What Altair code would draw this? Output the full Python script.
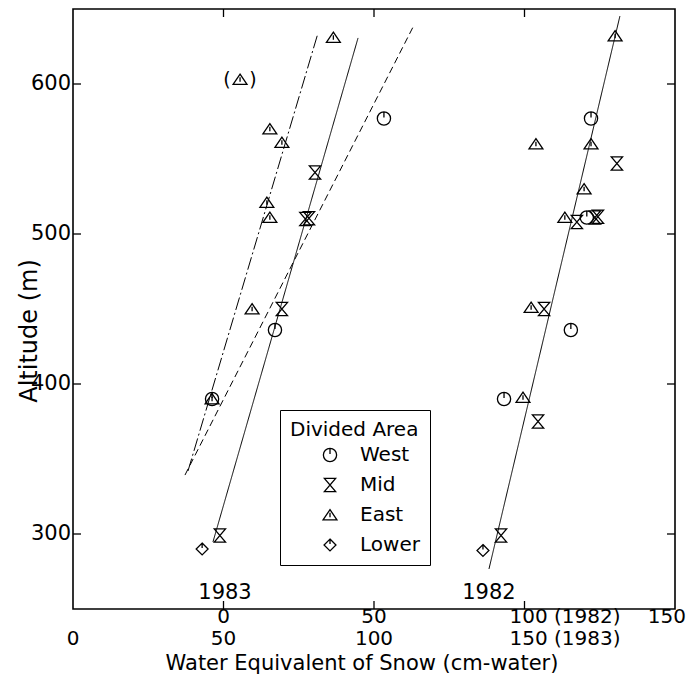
import altair as alt
import pandas as pd

FONT = "DejaVu Sans"

# ---- categories & marker shapes ----
areas = ["West", "Mid", "East", "Lower"]
shape_paths = [
    "M0,-1 A1,1,0,1,1,0,1 A1,1,0,1,1,0,-1 Z M0,-1 L0,-0.15",          # West
    "M-0.85,-1 L0.85,-1 L-0.85,1 L0.85,1 Z",                            # Mid
    "M0,-0.8 L1.05,0.75 L-1.05,0.75 Z M0,-0.35 L0,0.35",                # East
    "M0,-0.9 L0.9,0 L0,0.9 L-0.9,0 Z M0,-0.9 L0,-0.15",                 # Lower
]

# ---- 1983 observations (water in 1983 scale) ----
w83_area = ["East", "West", "East", "East", "Mid", "East", "East", "Mid", "Mid",
            "East", "Mid", "West", "West", "East", "Mid", "Lower"]
w83_water = [86.5, 103.3, 65.4, 69.4, 80.4, 64.4, 65.4, 77.2, 78.4,
             59.5, 69.4, 67.1, 46.2, 46.2, 48.8, 42.9]
w83_alt = [631, 577, 570, 561, 541, 521, 511, 510, 510.5,
           450, 450, 436, 390, 390, 299, 290]

# parenthesised (excluded) 1983 point
out83_area = ["East"]
out83_water = [55.5]
out83_alt = [603]

# ---- 1982 observations (water in 1982 scale) ----
w82_area = ["East", "West", "East", "East", "Mid", "East", "East", "Mid", "West", "Mid", "Mid",
            "East", "Mid", "West", "West", "East", "Mid", "Mid", "Lower"]
w82_water = [130.1, 122.1, 103.8, 122.1, 130.7, 119.8, 113.4, 117.4, 120.7, 123.4, 124.4,
             102.2, 106.5, 115.4, 93.2, 99.5, 104.5, 92.2, 86.2]
w82_alt = [632, 577, 560, 560, 547, 530, 511, 508, 511, 511, 511.5,
           451, 450, 436, 390, 391, 375, 299, 289]

# ---- fitted lines (endpoints) ----
line_id = ["83a", "83a", "83b", "83b", "83c", "83c", "82", "82"]
line_year = [1983, 1983, 1983, 1983, 1983, 1983, 1982, 1982]
line_style = ["solid", "solid", "dashdot", "dashdot", "dashed", "dashed", "solid", "solid"]
line_water = [46.5, 94.7, 38.2, 81.4, 37.2, 113.3, 88.2, 131.7]
line_alt = [294.7, 630.7, 342, 634, 339.3, 639.3, 276.7, 645.3]

# ---- year labels ----
ylab_text = ["1983", "1982"]
ylab_year = [1983, 1982]
ylab_water = [50.5, 88.2]
ylab_alt = [261, 261]

# ---- axis texts ----
tick_vals = [0, 50, 100, 150]
row82_labels = ["0", "50", "100 (1982)", "150"]
row83_labels = ["0", "50", "100", "150 (1983)"]
y_tick_vals = [300, 400, 500, 600]
y_tick_labels = ["300", "400", "500", "600"]
x_title = "Water Equivalent of Snow (cm-water)"
y_title = "Altitude (m)"

OFFSET = {1983: 0, 1982: 50}   # 1982 scale is shifted by 50 against 1983 scale

pts = pd.concat([
    pd.DataFrame({"area": w83_area, "water": w83_water, "alt": w83_alt, "year": 1983}),
    pd.DataFrame({"area": w82_area, "water": w82_water, "alt": w82_alt, "year": 1982}),
    pd.DataFrame({"area": out83_area, "water": out83_water, "alt": out83_alt, "year": 1983}),
])
pts["px"] = pts["water"] + pts["year"].map(OFFSET)

outl = pd.DataFrame({"water": out83_water, "alt": out83_alt})
outl["px"] = outl["water"] + OFFSET[1983]

lines = pd.DataFrame({"line": line_id, "year": line_year, "style": line_style,
                      "water": line_water, "alt": line_alt})
lines["px"] = lines["water"] + lines["year"].map(OFFSET)

ylabs = pd.DataFrame({"text": ylab_text, "year": ylab_year, "water": ylab_water, "alt": ylab_alt})
ylabs["px"] = ylabs["water"] + ylabs["year"].map(OFFSET)

row_rows = []
for v, l82, l83 in zip(tick_vals, row82_labels, row83_labels):
    for row, lab, yr in ((1, l82, 1982), (2, l83, 1983)):
        px = v + OFFSET[yr]
        kind = "compound" if "(" in lab else ("edge" if px >= 200 else "plain")
        row_rows.append({"px": px, "label": lab, "row": row, "kind": kind})
tlabs = pd.DataFrame(row_rows)

xt = pd.DataFrame({"px": [v + OFFSET[1983] for v in tick_vals if 0 < v + OFFSET[1983] < 200]})
yt = pd.DataFrame({"alt": y_tick_vals, "label": y_tick_labels})

W, H = 602, 600
ROW_Y = {1: 608, 2: 630}
xscale = alt.Scale(domain=[0, 200], nice=False, zero=False)
yscale = alt.Scale(domain=[250, 650], nice=False, zero=False)
x_n = alt.X("px:Q", scale=xscale, axis=None)
y_n = alt.Y("alt:Q", scale=yscale, axis=None)

line_layer = alt.Chart(lines).mark_line(color="black", strokeWidth=1).encode(
    x=x_n, y=y_n, detail="line:N",
    strokeDash=alt.StrokeDash("style:N", scale=alt.Scale(
        domain=["solid", "dashdot", "dashed"],
        range=[[1, 0], [13, 3, 2, 3], [7, 4]]), legend=None),
)

point_layer = alt.Chart(pts).mark_point(filled=False, color="black", strokeWidth=1.3,
                                        size=175, opacity=1).encode(
    x=x_n, y=y_n,
    shape=alt.Shape("area:N", scale=alt.Scale(domain=areas, range=shape_paths),
                    legend=alt.Legend(title="Divided Area", orient="none",
                                      legendX=207, legendY=401,
                                      strokeColor="black", fillColor="white", padding=10,
                                      titleFont=FONT, labelFont=FONT,
                                      titleFontSize=20, labelFontSize=20,
                                      titleFontWeight="normal", titleColor="black",
                                      labelColor="black", symbolSize=175,
                                      symbolStrokeColor="black", symbolStrokeWidth=1.3,
                                      symbolOffset=30, labelOffset=20, rowPadding=10,
                                      titlePadding=5)),
)

paren_l = alt.Chart(outl).mark_text(text="(", dx=-13, fontSize=19, font=FONT,
                                    color="black", baseline="middle").encode(x=x_n, y=y_n)
paren_r = alt.Chart(outl).mark_text(text=")", dx=13, fontSize=19, font=FONT,
                                    color="black", baseline="middle").encode(x=x_n, y=y_n)

year_text = alt.Chart(ylabs).mark_text(fontSize=21, font=FONT, color="black",
                                       baseline="middle").encode(x=x_n, y=y_n, text="text:N")

ticks_top = alt.Chart(xt).mark_rule(color="black", strokeWidth=1.3).encode(
    x=x_n, y=alt.value(0), y2=alt.value(8))
ticks_bot = alt.Chart(xt).mark_rule(color="black", strokeWidth=1.3).encode(
    x=x_n, y=alt.value(H), y2=alt.value(H - 8))
ticks_left = alt.Chart(yt).mark_rule(color="black", strokeWidth=1.3).encode(
    y=y_n, x=alt.value(0), x2=alt.value(8))
ticks_right = alt.Chart(yt).mark_rule(color="black", strokeWidth=1.3).encode(
    y=y_n, x=alt.value(W), x2=alt.value(W - 8))

y_labels = alt.Chart(yt).mark_text(fontSize=21, font=FONT, color="black",
                                   baseline="middle", align="right").encode(
    y=y_n, x=alt.value(-2), text="label:N")

titles = pd.DataFrame({"t": [x_title, y_title]})
x_title_layer = alt.Chart(titles).transform_filter(alt.datum.t == x_title).mark_text(
    fontSize=21, font=FONT, color="black", baseline="middle", align="center").encode(
    x=alt.value(289), y=alt.value(655), text="t:N")
y_title_layer = alt.Chart(titles).transform_filter(alt.datum.t == y_title).mark_text(
    fontSize=24, font=FONT, color="black", baseline="middle", align="center", angle=270).encode(
    x=alt.value(-43), y=alt.value(322), text="t:N")

ALIGN = {"plain": ("center", 0), "compound": ("left", -15), "edge": ("right", 11)}
label_layers = []
for r in (1, 2):
    for kind, (al, ddx) in ALIGN.items():
        flt = f"datum.row == {r} && datum.kind == '{kind}'"
        label_layers.append(
            alt.Chart(tlabs).transform_filter(flt).mark_text(
                fontSize=20, font=FONT, color="black", baseline="middle",
                align=al, dx=ddx).encode(
                x=x_n, y=alt.value(ROW_Y[r]), text="label:N"))

chart = alt.layer(
    line_layer, point_layer, paren_l, paren_r, year_text,
    ticks_top, ticks_bot, ticks_left, ticks_right, y_labels,
    x_title_layer, y_title_layer, *label_layers
).properties(
    width=W, height=H,
    autosize=alt.AutoSizeParams(type="none"),
    padding={"left": 65, "top": 1, "right": 11, "bottom": 67},
    background="white",
).configure_view(stroke="black", strokeWidth=1.6)

chart.save("out.html", embed_options={"renderer": "svg", "actions": False})
